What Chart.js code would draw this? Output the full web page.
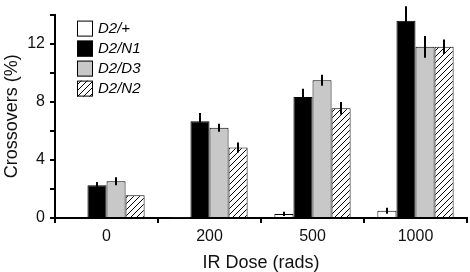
<!DOCTYPE html>
<html>
<head>
<meta charset="utf-8">
<script src="https://cdn.jsdelivr.net/npm/chart.js@4"></script>
<style>
  html, body { margin: 0; padding: 0; background: #fff; }
  #wrap { width: 470px; height: 272px; }
</style>
</head>
<body>
<div id="wrap"><canvas id="crossChart" width="470" height="272"></canvas></div>
<script>
/* --------- データ --------- */
const doseLabels = ["0", "200", "500", "1000"];
const genotypes = ["D2/+", "D2/N1", "D2/D3", "D2/N2"];

// 各遺伝子型の交叉率（%）
const plusValues = [0, 0.05, 0.28, 0.5];
const n1Values = [2.26, 6.66, 8.33, 13.58];
const d3Values = [2.53, 6.21, 9.48, 11.78];
const n2Values = [1.57, 4.85, 7.56, 11.78];

// 誤差（±）
const plusErr = [0, 0, 0.15, 0.2];
const n1Err = [0.22, 0.56, 0.56, 1.0];
const d3Err = [0.27, 0.27, 0.38, 0.75];
const n2Err = [0, 0.34, 0.43, 0.5];

const yTicks = [0, 4, 8, 12];

const FONT = "'Liberation Sans', Arial, sans-serif";

/* --------- 斜線パターン --------- */
function makeHatch() {
  const c = document.createElement("canvas");
  c.width = 6;
  c.height = 6;
  const g = c.getContext("2d");
  g.fillStyle = "#fff";
  g.fillRect(0, 0, 6, 6);
  g.strokeStyle = "#000";
  g.lineWidth = 1;
  g.beginPath();
  g.moveTo(0, 6); g.lineTo(6, 0);
  g.moveTo(-1, 1); g.lineTo(1, -1);
  g.moveTo(5, 7); g.lineTo(7, 5);
  g.stroke();
  return g.createPattern(c, "repeat");
}

function makeDataset(label, data, err, fill) {
  return {
    label,
    data,
    err,
    backgroundColor: fill,
    borderColor: "#000",
    borderWidth: 1,
    categoryPercentage: 0.74,
    barPercentage: 1,
  };
}

/* --------- 誤差棒 --------- */
const errorBars = {
  id: "errorBars",
  afterDatasetsDraw(chart) {
    const ctx = chart.ctx;
    const y = chart.scales.y;
    ctx.save();
    ctx.strokeStyle = "#000";
    ctx.lineWidth = 2;
    chart.data.datasets.forEach((ds, i) => {
      chart.getDatasetMeta(i).data.forEach((bar, j) => {
        const e = ds.err[j];
        if (!e) return;
        const v = ds.data[j];
        ctx.beginPath();
        ctx.moveTo(Math.round(bar.x), y.getPixelForValue(v - e));
        ctx.lineTo(Math.round(bar.x), y.getPixelForValue(v + e));
        ctx.stroke();
      });
    });
    ctx.restore();
  },
};

/* --------- 凡例 --------- */
const boxLegend = {
  id: "boxLegend",
  afterDraw(chart) {
    const ctx = chart.ctx;
    const a = chart.chartArea;
    ctx.save();
    ctx.font = "italic 15px " + FONT;
    ctx.textBaseline = "middle";
    chart.data.datasets.forEach((ds, i) => {
      const x = a.left + 22;
      const top = a.top + 6 + i * 20;
      ctx.fillStyle = ds.backgroundColor;
      ctx.fillRect(x, top, 16, 16);
      ctx.strokeStyle = "#000";
      ctx.lineWidth = 1;
      ctx.strokeRect(x + 0.5, top + 0.5, 15, 15);
      ctx.fillStyle = "#000";
      ctx.fillText(ds.label, x + 21, top + 8.5);
    });
    ctx.restore();
  },
};

/* --------- 描画 --------- */
const hatch = makeHatch();

new Chart(document.getElementById("crossChart"), {
  type: "bar",
  data: {
    labels: doseLabels,
    datasets: [
      makeDataset(genotypes[0], plusValues, plusErr, "#ffffff"),
      makeDataset(genotypes[1], n1Values, n1Err, "#000000"),
      makeDataset(genotypes[2], d3Values, d3Err, "#c8c8c8"),
      makeDataset(genotypes[3], n2Values, n2Err, hatch),
    ],
  },
  options: {
    responsive: false,
    animation: false,
    layout: { padding: { top: 11, right: 3, left: 0, bottom: 0 } },
    plugins: { legend: { display: false }, tooltip: { enabled: false } },
    scales: {
      x: {
        border: { color: "#000", width: 2 },
        grid: { drawOnChartArea: false, offset: true, color: "#000", lineWidth: 2, tickLength: 5 },
        ticks: { color: "#111", font: { family: FONT, size: 16 }, padding: 4 },
        title: {
          display: true,
          text: "IR Dose (rads)",
          color: "#111",
          font: { family: FONT, size: 18, lineHeight: 1 },
          padding: 0,
        },
        afterFit: (s) => { s.height = 54; },
      },
      y: {
        min: 0,
        max: 14,
        border: { color: "#000", width: 2 },
        grid: { drawOnChartArea: false, color: "#000", lineWidth: 2, tickLength: 5 },
        ticks: {
          stepSize: 2,
          color: "#111",
          padding: 5,
          font: { family: FONT, size: 16 },
          callback: (v) => (yTicks.includes(v) ? String(v) : ""),
        },
        title: {
          display: true,
          text: "Crossovers (%)",
          color: "#111",
          font: { family: FONT, size: 18, lineHeight: 1 },
          padding: { top: 3, bottom: 0 },
        },
        afterFit: (s) => { s.width = 55; },
      },
    },
  },
  plugins: [errorBars, boxLegend],
});
</script>
</body>
</html>
